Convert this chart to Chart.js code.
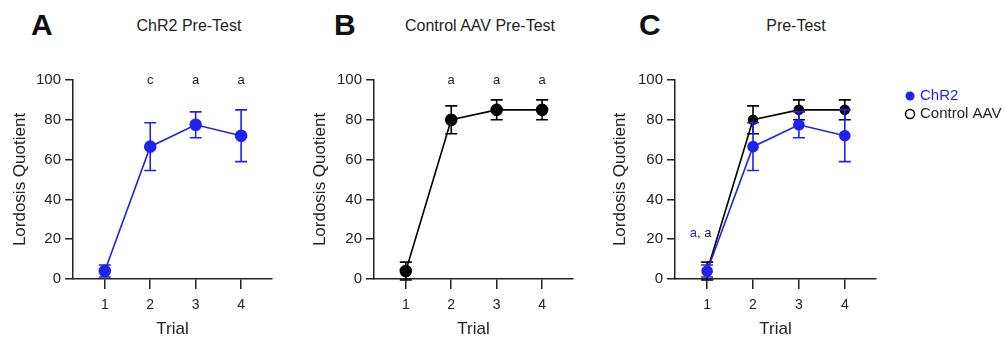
<!DOCTYPE html>
<html>
<head>
<meta charset="utf-8">
<script src="https://cdn.jsdelivr.net/npm/chart.js@4.4.1/dist/chart.umd.min.js"></script>
<style>
body { margin: 0; background: #fff; width: 1004px; height: 341px; position: relative; overflow: hidden;
       font-family: "Liberation Sans", Arial, sans-serif; color: #222; }
canvas { position: absolute; top: 0; }
.panel { position: absolute; font-weight: bold; font-size: 30px; line-height: 30px; color: #111; }
.title { position: absolute; font-size: 16px; line-height: 16px; transform: translateX(-50%); white-space: nowrap; }
</style>
</head>
<body>
<div class="panel" style="left:31px;top:10px">A</div>
<div class="panel" style="left:334px;top:10px">B</div>
<div class="panel" style="left:639px;top:10px">C</div>
<div class="title" style="left:189px;top:18px">ChR2 Pre-Test</div>
<div class="title" style="left:480px;top:18px">Control AAV Pre-Test</div>
<div class="title" style="left:796px;top:18px">Pre-Test</div>

<canvas id="chartA" width="300" height="341" style="left:0"></canvas>
<canvas id="chartB" width="300" height="341" style="left:300px"></canvas>
<canvas id="chartC" width="404" height="341" style="left:600px"></canvas>

<script>
// data (mean +/- error)
const trials = [1, 2, 3, 4];
const yTicks = [0, 20, 40, 60, 80, 100];
const chr2Mean = [4, 66.5, 77.5, 72];
const chr2Err = [3, 12, 6.5, 13];
const controlMean = [4, 80, 85, 85];
const controlErr = [4.5, 7, 5, 5];
const chr2Letters = ['', 'c', 'a', 'a'];
const controlLetters = ['', 'a', 'a', 'a'];

const BLUE = '#2222ee';
const INK = '#222';
const FONT = '"Liberation Sans", Arial, sans-serif';
Chart.defaults.font.family = FONT;
Chart.defaults.color = INK;

function points(means) {
    return trials.map((t, i) => ({ x: t, y: means[i] }));
}

function series(label, means, errs, color, radius) {
    return {
        label: label,
        data: points(means),
        errors: errs,
        borderColor: color,
        backgroundColor: color,
        pointBackgroundColor: color,
        pointBorderColor: color,
        pointRadius: radius,
        pointHoverRadius: radius,
        borderWidth: 1.6,
        tension: 0,
        clip: false
    };
}

// error bars go under each dataset's points
const errorBars = {
    id: 'errorBars',
    beforeDatasetDraw(chart, args) {
        const ds = chart.data.datasets[args.index];
        if (!ds.errors) return;
        const ctx = chart.ctx;
        const x = chart.scales.x, y = chart.scales.y;
        ctx.save();
        ctx.strokeStyle = ds.borderColor;
        ctx.lineWidth = 1.6;
        ds.data.forEach((p, i) => {
            const px = x.getPixelForValue(p.x);
            const top = y.getPixelForValue(p.y + ds.errors[i]);
            const bot = y.getPixelForValue(p.y - ds.errors[i]);
            ctx.beginPath();
            ctx.moveTo(px, top); ctx.lineTo(px, bot);
            ctx.moveTo(px - 6, top); ctx.lineTo(px + 6, top);
            ctx.moveTo(px - 6, bot); ctx.lineTo(px + 6, bot);
            ctx.stroke();
        });
        ctx.restore();
    }
};

// significance letters (can be multi-coloured)
const sigLetters = {
    id: 'sigLetters',
    afterDatasetsDraw(chart, args, opts) {
        if (!opts.items) return;
        const ctx = chart.ctx;
        const x = chart.scales.x, y = chart.scales.y;
        ctx.save();
        ctx.font = '13px ' + FONT;
        ctx.textBaseline = 'middle';
        ctx.textAlign = 'left';
        opts.items.forEach(item => {
            const total = item.parts.reduce((w, p) => w + ctx.measureText(p.text).width, 0);
            let px = x.getPixelForValue(item.x) - total / 2;
            const py = y.getPixelForValue(item.y);
            item.parts.forEach(p => {
                ctx.fillStyle = p.color;
                ctx.fillText(p.text, px, py);
                px += ctx.measureText(p.text).width;
            });
        });
        ctx.restore();
    }
};

// small legend to the right of panel C
const sideLegend = {
    id: 'sideLegend',
    afterDraw(chart, args, opts) {
        if (!opts.display) return;
        const ctx = chart.ctx;
        ctx.save();
        ctx.font = '15px ' + FONT;
        ctx.textBaseline = 'middle';
        chart.data.datasets.forEach((ds, i) => {
            const cy = opts.top + i * 18;
            ctx.beginPath();
            ctx.arc(opts.left, cy, 4.5, 0, Math.PI * 2);
            if (i === 0) {
                ctx.fillStyle = ds.borderColor;
                ctx.fill();
            } else {
                ctx.strokeStyle = ds.borderColor;
                ctx.lineWidth = 1.5;
                ctx.stroke();
            }
            ctx.fillStyle = i === 0 ? ds.borderColor : INK;
            ctx.fillText(ds.label, opts.left + 10, cy);
        });
        ctx.restore();
    }
};

function letterItems(letters) {
    return trials.map((t, i) => ({ x: t, y: 100, parts: [{ text: letters[i], color: INK }] }))
                 .filter(it => it.parts[0].text);
}

function scales(yWidth) {
    return {
        x: {
            type: 'linear', min: 0.3, max: 4.68,
            afterBuildTicks: s => { s.ticks = trials.map(v => ({ value: v })); },
            afterFit: s => { s.height = 62; },
            ticks: { font: { size: 14 }, padding: 8, color: INK, callback: v => String(v) },
            grid: { drawOnChartArea: false, drawTicks: true, tickLength: 10, color: INK, lineWidth: 1.5 },
            border: { display: true, color: INK, width: 1.5 },
            title: { display: true, text: 'Trial', font: { size: 17 }, color: INK, padding: { top: 0, bottom: 1 } }
        },
        y: {
            min: 0, max: 100,
            afterBuildTicks: s => { s.ticks = yTicks.map(v => ({ value: v })); },
            afterFit: s => { s.width = yWidth; },
            ticks: { font: { size: 15 }, padding: 4, color: INK },
            grid: { drawOnChartArea: false, tickLength: 8, color: INK, lineWidth: 1.5 },
            border: { display: true, color: INK, width: 1.5 },
            title: { display: true, text: 'Lordosis Quotient', font: { size: 17 }, color: INK, padding: { top: 10, bottom: 0 } }
        }
    };
}

function makeChart(id, datasets, yWidth, padRight, pluginOpts) {
    return new Chart(document.getElementById(id), {
        type: 'line',
        data: { datasets: datasets },
        options: {
            responsive: false,
            animation: false,
            events: [],
            layout: { padding: { top: 80, right: padRight, bottom: 0, left: 0 } },
            scales: scales(yWidth),
            plugins: Object.assign({ legend: { display: false }, tooltip: { enabled: false } }, pluginOpts)
        },
        plugins: [errorBars, sigLetters, sideLegend]
    });
}

makeChart('chartA', [series('ChR2', chr2Mean, chr2Err, BLUE, 5.5)], 73, 28,
    { sigLetters: { items: letterItems(chr2Letters) } });

makeChart('chartB', [series('Control AAV', controlMean, controlErr, '#000', 5.5)], 74, 27,
    { sigLetters: { items: letterItems(controlLetters) } });

makeChart('chartC', [
        series('ChR2', chr2Mean, chr2Err, BLUE, 5),
        series('Control AAV', controlMean, controlErr, '#000', 4.5)
    ], 75, 128,
    {
        sigLetters: { items: [{ x: 0.86, y: 23, parts: [{ text: 'a', color: BLUE }, { text: ', a', color: INK }] }] },
        sideLegend: { display: true, left: 310, top: 96 }
    });
</script>
</body>
</html>
